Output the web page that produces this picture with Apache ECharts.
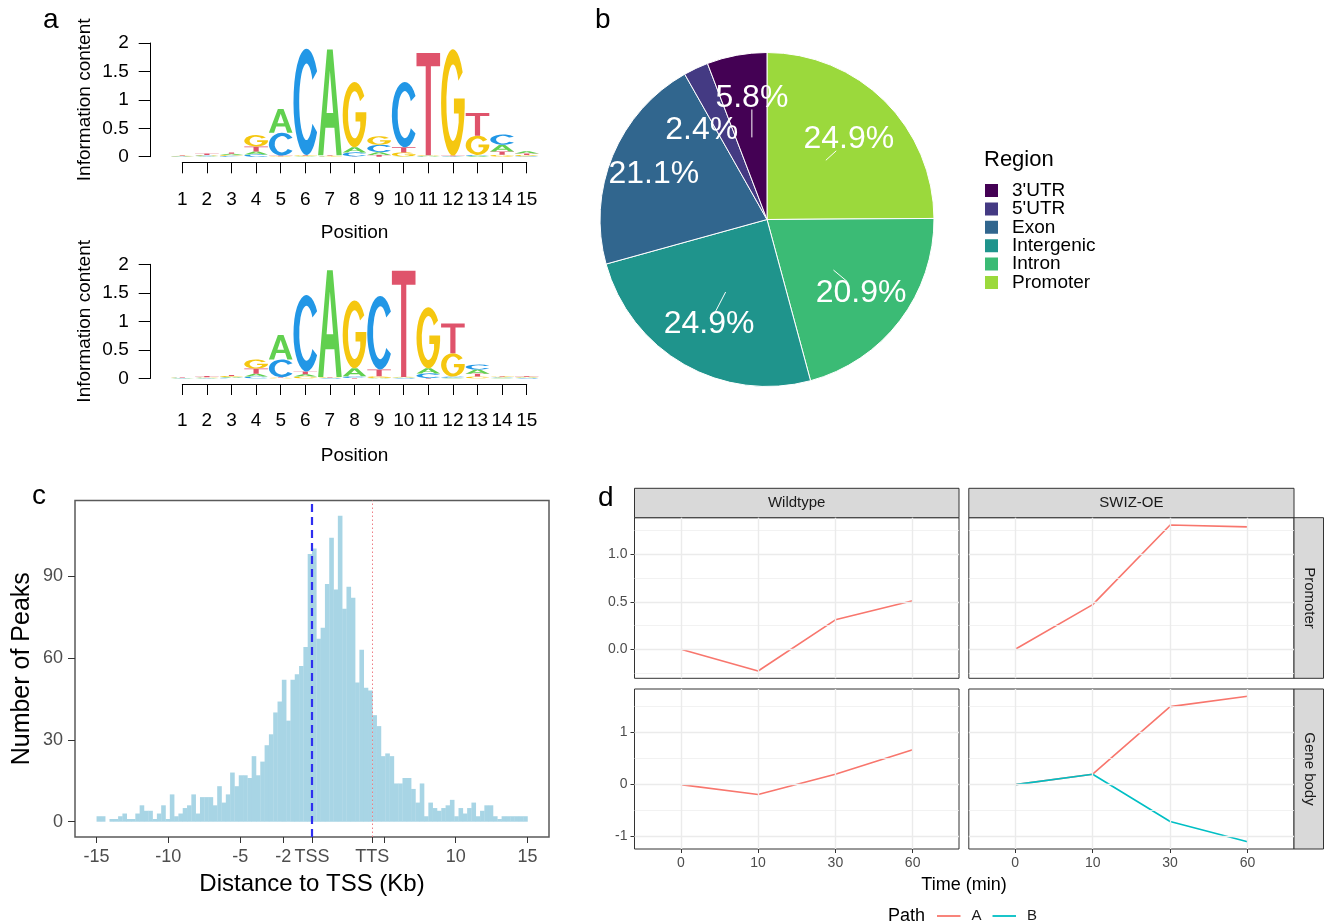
<!DOCTYPE html>
<html>
<head>
<meta charset="utf-8">
<script src="https://cdn.jsdelivr.net/npm/echarts@6/dist/echarts.min.js"></script>
<style>
html,body{margin:0;padding:0;background:#fff;}
#chart{width:1325px;height:924px;}
</style>
</head>
<body>
<div id="chart"></div>
<script>
// ================= DATA =================
// Panel a: sequence logos (information content in bits, per position 1..15)
const logoPositions = [1,2,3,4,5,6,7,8,9,10,11,12,13,14,15];
const logoLetters = ['A','C','G','T'];
const logo1A = [0.005,0.01,0.02,0.05,0.42,0.01,1.86,0.09,0.05,0.005,0.01,0.005,0.015,0.12,0.04];
const logo1C = [0.005,0.01,0.015,0.04,0.40,1.87,0.005,0.07,0.13,1.15,0.005,0.005,0.015,0.18,0.01];
const logo1G = [0.005,0.01,0.015,0.20,0.01,0.01,0.01,1.15,0.15,0.07,0.01,1.87,0.34,0.035,0.02];
const logo1T = [0.005,0.025,0.025,0.09,0.01,0.01,0.01,0.005,0.03,0.09,1.80,0.01,0.40,0.055,0.025];
const logo2A = [0.005,0.005,0.015,0.05,0.43,0.04,1.87,0.14,0.005,0.01,0.09,0.01,0.075,0.01,0.01];
const logo2C = [0.005,0.005,0.01,0.03,0.31,1.34,0.005,0.03,1.29,0.005,0.08,0.02,0.085,0.01,0.005];
const logo2G = [0.005,0.01,0.015,0.16,0.01,0.03,0.01,1.19,0.03,0.01,1.07,0.41,0.03,0.01,0.01];
const logo2T = [0.01,0.02,0.02,0.09,0.01,0.05,0.01,0.005,0.12,1.86,0.005,0.52,0.05,0.01,0.01];

// Panel b: genomic region distribution (%)
const regionNames = ['Promoter','Intron','Intergenic','Exon',"5'UTR","3'UTR"];
const regionPct = [24.9,20.9,24.9,21.1,2.4,5.8];
const regionLegendOrder = ["3'UTR","5'UTR",'Exon','Intergenic','Intron','Promoter'];

// Panel c: histogram of distance to TSS (100 bins of 0.3 kb from -15 kb)
const histStart = -15;
const histBinWidth = 0.3;
const histCounts = [
  2,2,0,1,1,2,3,1,1,3,6,4,4,1,3,6,1,10,2,3,5,6,10,3,9,9,9,6,13,7,10,18,13,17,
  17,16,24,17,22,28,32,40,44,52,37,52,54,57,64,98,
  100,67,71,87,104,85,112,78,86,82,51,63,49,48,39,35,24,25,
  24,14,14,16,16,12,7,14,2,7,5,4,5,6,8,2,5,3,5,7,2,4,6,6,2,1,2,2,2,2,2,2
];
const tssPos = 0;
const ttsPos = 4.2;
const histXTicks = [-15,-10,-5,-2,0,4.2,5,10,15];
const histXTickLabels = ['-15','-10','-5','-2','TSS','TTS','','10','15'];
const histYTicks = [0,30,60,90];

// Panel d: time course per path
const timeLabels = ['0','10','30','60'];
const wtPromoterA = [0,-0.23,0.31,0.51];
const oePromoterA = [0,0.47,1.31,1.29];
const wtGeneBodyA = [0,-0.19,0.20,0.67];
const oeGeneBodyA = [0,0.20,1.50,1.70];
const oeGeneBodyB = [0,0.20,-0.71,-1.10];
const promoterTicks = [0,0.5,1.0];
const promoterTickLabels = ['0.0','0.5','1.0'];
const geneBodyTicks = [-1,0,1];
const geneBodyTickLabels = ['-1','0','1'];

// ================= STYLE =================
const FONT = '"Liberation Sans", Arial, Helvetica, sans-serif';
const LETTER_COLORS = ['#61D04F','#2297E6','#F5C710','#DF536B'];
const GLYPHS = [
  'M0 100 L38 0 L62 0 L100 100 L78 100 L69 74 L31 74 L22 100 Z M36 60 L64 60 L50 20 Z',
  'M90.96 21.32 A 50 50 0 1 0 90.96 78.68 L72.94 70.65 A 28 36 0 1 1 72.94 29.35 Z',
  'M90.96 21.32 A 50 50 0 1 0 99.5 55 L99.5 46 L54 46 L54 60 L74 60 L74 68.5 A 28 36 0 1 1 72.94 29.35 Z',
  'M0 0 L100 0 L100 13 L61 13 L61 100 L39 100 L39 13 L0 13 Z'
];
const REGION_COLORS = {"3'UTR":'#440154',"5'UTR":'#443A83','Exon':'#31668E','Intergenic':'#1F948C','Intron':'#3BBB75','Promoter':'#9BD93C'};
const PIE_CENTER = [767,219.5];
const PIE_RADIUS = 167;
const PIE_LABEL_FONT = 32;
const PIE_LABEL_NUDGE = [[23,-21],[27.6,23],[-16.6,32],[-36,-13.5],[-29.7,-14],[0,-39.4]];
const PATH_COLORS = {A:'#F8766D', B:'#00BFC4'};

// ================= HELPERS =================
function buildLogo(hA,hC,hG,hT){
  const out=[];
  for(let p=0;p<logoPositions.length;p++){
    const items=[[0,hA[p]],[1,hC[p]],[2,hG[p]],[3,hT[p]]].sort((a,b)=>a[1]-b[1]);
    let y=0;
    for(const it of items){ out.push([logoPositions[p], y, y+it[1], it[0]]); y+=it[1]; }
  }
  return out;
}
function letterItem(params, api){
  const x=api.value(0), y0=api.value(1), y1=api.value(2), li=api.value(3);
  const a=api.coord([x-0.48,y1]), b=api.coord([x+0.48,y0]);
  return {type:'path', shape:{pathData:GLYPHS[li], x:a[0], y:a[1], width:b[0]-a[0], height:Math.max(b[1]-a[1],0.4), layout:'cover'}, style:{fill:LETTER_COLORS[li]}};
}
const histData = histCounts.map((c,i)=>[histStart+i*histBinWidth, histStart+(i+1)*histBinWidth, c]);
function histItem(params, api){
  const a=api.coord([api.value(0), api.value(2)]), b=api.coord([api.value(1), 0]);
  return {type:'rect', shape:{x:a[0], y:a[1], width:b[0]-a[0]+0.3, height:b[1]-a[1]}, style:{fill:'#A8D5E5'}};
}
const histMaxCount = Math.max(...histCounts);
const histXRange = [histStart, histStart+histCounts.length*histBinWidth];
const histXPad = (histXRange[1]-histXRange[0])*0.05;
const histYPad = histMaxCount*0.05;

function expandRange(arrs){
  const all=[].concat(...arrs); const mn=Math.min(...all), mx=Math.max(...all);
  const pad=(mx-mn)*0.05; return [mn-pad, mx+pad];
}
function minorBreaks(majors, lo, hi){
  const s=majors[1]-majors[0]; const out=majors.map(m=>m-s/2); out.push(majors[majors.length-1]+s/2);
  return out.filter(v=>v>lo && v<hi);
}
const promoterRange = expandRange([wtPromoterA, oePromoterA]);
const geneBodyRange = expandRange([wtGeneBodyA, oeGeneBodyA, oeGeneBodyB]);

// pie label geometry: centroid of slice (half radius) and nudged label position
const measureCtx = document.createElement('canvas').getContext('2d');
function pieLabelGeom(i){
  const total=regionPct.reduce((a,b)=>a+b,0);
  let before=0; for(let j=0;j<i;j++) before+=regionPct[j];
  const ang=(before+regionPct[i]/2)/total*2*Math.PI;
  const cx=PIE_CENTER[0]+PIE_RADIUS/2*Math.sin(ang), cy=PIE_CENTER[1]-PIE_RADIUS/2*Math.cos(ang);
  const lx=cx+PIE_LABEL_NUDGE[i][0], ly=cy+PIE_LABEL_NUDGE[i][1];
  measureCtx.font = PIE_LABEL_FONT+'px '+FONT;
  const hw = measureCtx.measureText(regionPct[i].toFixed(1)+'%').width/2, hh = PIE_LABEL_FONT*0.36;
  const dx=lx-cx, dy=ly-cy;
  const s=Math.min(dx?hw/Math.abs(dx):Infinity, dy?hh/Math.abs(dy):Infinity);
  const t=Math.max(0,1-s);
  return {cx, cy, lx, ly, ex:cx+dx*t, ey:cy+dy*t, len:Math.hypot(dx,dy)*t};
}
function pieLabelLayout(p){
  const g=pieLabelGeom(p.dataIndex);
  return {x:g.lx, y:g.ly, align:'center', verticalAlign:'middle'};
}
const pieLeaderLines = regionPct.map((v,i)=>pieLabelGeom(i)).filter(g=>g.len>=12).map(g=>(
  {type:'line', z:200, silent:true, shape:{x1:g.cx, y1:g.cy, x2:g.ex, y2:g.ey}, style:{stroke:'#ffffff', lineWidth:1}}
));

// ================= AXES =================
function logoXAxis(grid, margin, gap){
  return {gridIndex:grid, type:'value', min:1, max:15, interval:1,
    axisLine:{show:true, onZero:false, lineStyle:{color:'#000', width:1}},
    axisTick:{show:true, length:11, lineStyle:{color:'#000', width:1}},
    axisLabel:{color:'#000', fontSize:19, fontFamily:FONT, margin:margin},
    splitLine:{show:false},
    name:'Position', nameLocation:'middle', nameGap:gap, nameTextStyle:{color:'#000', fontSize:19, fontFamily:FONT}};
}
function logoYAxis(grid){
  return {gridIndex:grid, type:'value', min:0, max:2, interval:0.5, offset:19.3,
    axisLine:{show:true, onZero:false, lineStyle:{color:'#000', width:1}},
    axisTick:{show:true, length:12, lineStyle:{color:'#000', width:1}},
    axisLabel:{color:'#000', fontSize:19, fontFamily:FONT, margin:22},
    splitLine:{show:false},
    name:'Information content', nameLocation:'middle', nameGap:56, nameTextStyle:{color:'#000', fontSize:19, fontFamily:FONT}};
}
function facetX(grid, showLabels){
  return {gridIndex:grid, type:'value', min:0.4, max:4.6,
    axisLine:{show:false, onZero:false},
    axisTick:{show:showLabels, customValues:[1,2,3,4], length:4, lineStyle:{color:'#333'}},
    axisLabel:{show:showLabels, customValues:[1,2,3,4], formatter:v=>timeLabels[Math.round(v)-1], color:'#4D4D4D', fontSize:14, fontFamily:FONT, margin:7},
    splitLine:{show:false}};
}
function facetY(grid, range, ticks, labels, show){
  return {gridIndex:grid, type:'value', min:range[0], max:range[1],
    axisLine:{show:false, onZero:false},
    axisTick:{show:show, customValues:ticks, length:4, lineStyle:{color:'#333'}},
    axisLabel:{show:show, customValues:ticks, formatter:v=>{const k=ticks.findIndex(t=>Math.abs(t-v)<1e-9); return k>=0?labels[k]:'';}, color:'#4D4D4D', fontSize:14, fontFamily:FONT, margin:7},
    splitLine:{show:false}};
}
function facetGridSeries(idx, majors, range){
  const minors = minorBreaks(majors, range[0], range[1]);
  const major = {color:'#EBEBEB', width:1.4, type:'solid'};
  const minor = {color:'#EFEFEF', width:0.8, type:'solid'};
  return {type:'line', xAxisIndex:idx, yAxisIndex:idx, data:[], silent:true, z:1,
    markLine:{silent:true, symbol:['none','none'], animation:false, label:{show:false},
      data:[].concat(
        minors.map(v=>({yAxis:v, lineStyle:minor})),
        majors.map(v=>({yAxis:v, lineStyle:major})),
        timeLabels.map((t,i)=>({xAxis:i+1, lineStyle:major}))
      )}};
}
function pathLine(idx, name, vals){
  return {type:'line', name:name, xAxisIndex:idx, yAxisIndex:idx, data:vals.map((v,i)=>[i+1,v]),
    symbol:'none', silent:true, z:3, lineStyle:{color:PATH_COLORS[name], width:1.6}, itemStyle:{color:PATH_COLORS[name]}};
}

const facetBox = {show:true, borderColor:'#333333', borderWidth:1, backgroundColor:'rgba(0,0,0,0)'};

const option = {
  animation:false,
  backgroundColor:'#ffffff',
  textStyle:{fontFamily:FONT},
  grid:[
    {left:170, top:43, width:369, height:113.7},
    {left:182.3, top:161.3, width:344.4, height:1},
    {left:170, top:264.3, width:369, height:114},
    {left:182.3, top:383, width:344.4, height:1},
    {left:75, top:500.5, width:474, height:336.5, show:true, borderColor:'#5a5a5a', borderWidth:1.5, backgroundColor:'rgba(0,0,0,0)'},
    Object.assign({left:634.5, top:517.7, width:324.5, height:160.6}, facetBox),
    Object.assign({left:968.8, top:517.7, width:325.2, height:160.6}, facetBox),
    Object.assign({left:634.5, top:689, width:324.5, height:160}, facetBox),
    Object.assign({left:968.8, top:689, width:325.2, height:160}, facetBox)
  ],
  xAxis:[
    {gridIndex:0, type:'value', min:0.5, max:15.5, show:false, axisLine:{onZero:false}},
    logoXAxis(1, 28, 61),
    {gridIndex:2, type:'value', min:0.5, max:15.5, show:false, axisLine:{onZero:false}},
    logoXAxis(3, 27, 62),
    {gridIndex:4, type:'value', min:histXRange[0]-histXPad, max:histXRange[1]+histXPad,
      axisLine:{show:false, onZero:false},
      axisTick:{show:true, customValues:histXTicks, length:6, lineStyle:{color:'#333', width:1}},
      axisLabel:{show:true, customValues:histXTicks, formatter:v=>{const k=histXTicks.findIndex(t=>Math.abs(t-v)<1e-9); return k>=0?histXTickLabels[k]:'';}, color:'#4D4D4D', fontSize:18, fontFamily:FONT, margin:11},
      splitLine:{show:false},
      name:'Distance to TSS (Kb)', nameLocation:'middle', nameGap:35, nameTextStyle:{color:'#000', fontSize:24, fontFamily:FONT}},
    facetX(5,false), facetX(6,false), facetX(7,true), facetX(8,true)
  ],
  yAxis:[
    logoYAxis(0),
    {gridIndex:1, type:'value', min:0, max:1, show:false, axisLine:{onZero:false}},
    logoYAxis(2),
    {gridIndex:3, type:'value', min:0, max:1, show:false, axisLine:{onZero:false}},
    {gridIndex:4, type:'value', min:-histYPad, max:histMaxCount+histYPad,
      axisLine:{show:false, onZero:false},
      axisTick:{show:true, customValues:histYTicks, length:7, lineStyle:{color:'#333', width:1}},
      axisLabel:{show:true, customValues:histYTicks, color:'#4D4D4D', fontSize:18, fontFamily:FONT, margin:12},
      splitLine:{show:false},
      name:'Number of Peaks', nameLocation:'middle', nameGap:40, nameTextStyle:{color:'#000', fontSize:25, fontFamily:FONT}},
    facetY(5, promoterRange, promoterTicks, promoterTickLabels, true),
    facetY(6, promoterRange, promoterTicks, promoterTickLabels, false),
    facetY(7, geneBodyRange, geneBodyTicks, geneBodyTickLabels, true),
    facetY(8, geneBodyRange, geneBodyTicks, geneBodyTickLabels, false)
  ],
  legend:[
    {data:regionLegendOrder, orient:'vertical', left:983, top:181, padding:0, itemWidth:15, itemHeight:15, itemGap:-0.6,
      icon:'rect', selectedMode:false, textStyle:{fontSize:19, color:'#000', fontFamily:FONT, lineHeight:15, padding:[0,0,0,8]}},
    {data:['A','B'], orient:'horizontal', left:937, top:908.5, padding:0, itemWidth:23.5, itemHeight:1.8, itemGap:11,
      icon:'rect', selectedMode:false, textStyle:{fontSize:15, color:'#1A1A1A', fontFamily:FONT, lineHeight:14, padding:[0,0,0,6]}}
  ],
  series:[
    {type:'custom', xAxisIndex:0, yAxisIndex:0, data:buildLogo(logo1A,logo1C,logo1G,logo1T), renderItem:letterItem, silent:true},
    {type:'custom', xAxisIndex:2, yAxisIndex:2, data:buildLogo(logo2A,logo2C,logo2G,logo2T), renderItem:letterItem, silent:true},
    {type:'pie', center:PIE_CENTER, radius:PIE_RADIUS, startAngle:90, clockwise:true, avoidLabelOverlap:false, silent:true,
      data:regionNames.map((n,i)=>({name:n, value:regionPct[i], itemStyle:{color:REGION_COLORS[n]}})),
      itemStyle:{borderColor:'#ffffff', borderWidth:1},
      label:{show:true, position:'outside', formatter:p=>p.value.toFixed(1)+'%', color:'#ffffff', fontSize:PIE_LABEL_FONT, fontFamily:FONT},
      labelLine:{show:false},
      labelLayout:pieLabelLayout},
    {type:'custom', xAxisIndex:4, yAxisIndex:4, data:histData, renderItem:histItem, silent:true, z:2,
      markLine:{silent:true, symbol:['none','none'], animation:false, label:{show:false},
        data:[
          {xAxis:tssPos, lineStyle:{color:'#2E2EF0', width:2.2, type:[8,5]}},
          {xAxis:ttsPos, lineStyle:{color:'#EE7F86', width:1, type:[1.5,2.5]}}
        ]}},
    facetGridSeries(5, promoterTicks, promoterRange),
    facetGridSeries(6, promoterTicks, promoterRange),
    facetGridSeries(7, geneBodyTicks, geneBodyRange),
    facetGridSeries(8, geneBodyTicks, geneBodyRange),
    pathLine(5,'A',wtPromoterA),
    pathLine(6,'A',oePromoterA),
    pathLine(7,'A',wtGeneBodyA),
    pathLine(8,'A',oeGeneBodyA),
    pathLine(8,'B',oeGeneBodyB)
  ],
  graphic:{elements:[
    {type:'text', left:43, top:6, style:{text:'a', fontSize:28, fontFamily:FONT, fill:'#000'}},
    {type:'text', left:595, top:6, style:{text:'b', fontSize:28, fontFamily:FONT, fill:'#000'}},
    {type:'text', left:32, top:482, style:{text:'c', fontSize:28, fontFamily:FONT, fill:'#000'}},
    {type:'text', left:598, top:484, style:{text:'d', fontSize:28, fontFamily:FONT, fill:'#000'}},
    {type:'text', left:984, top:149, style:{text:'Region', fontSize:22, fontFamily:FONT, fill:'#000'}},
    {type:'rect', shape:{x:634.5, y:488.3, width:324.5, height:29.4}, style:{fill:'#D9D9D9', stroke:'#333333', lineWidth:1}},
    {type:'rect', shape:{x:968.8, y:488.3, width:325.2, height:29.4}, style:{fill:'#D9D9D9', stroke:'#333333', lineWidth:1}},
    {type:'rect', shape:{x:1294, y:517.7, width:29.5, height:160.6}, style:{fill:'#D9D9D9', stroke:'#333333', lineWidth:1}},
    {type:'rect', shape:{x:1294, y:689, width:29.5, height:160}, style:{fill:'#D9D9D9', stroke:'#333333', lineWidth:1}},
    {type:'text', x:796.7, y:503, style:{text:'Wildtype', x:0, y:0, align:'center', verticalAlign:'middle', fontSize:15, fontFamily:FONT, fill:'#1A1A1A'}},
    {type:'text', x:1131.4, y:503, style:{text:'SWIZ-OE', x:0, y:0, align:'center', verticalAlign:'middle', fontSize:15, fontFamily:FONT, fill:'#1A1A1A'}},
    {type:'text', x:1309, y:598, rotation:-Math.PI/2, style:{text:'Promoter', x:0, y:0, align:'center', verticalAlign:'middle', fontSize:15, fontFamily:FONT, fill:'#1A1A1A'}},
    {type:'text', x:1309, y:769, rotation:-Math.PI/2, style:{text:'Gene body', x:0, y:0, align:'center', verticalAlign:'middle', fontSize:15, fontFamily:FONT, fill:'#1A1A1A'}},
    {type:'text', x:964, y:885, style:{text:'Time (min)', x:0, y:0, align:'center', verticalAlign:'middle', fontSize:18, fontFamily:FONT, fill:'#000'}},
    {type:'text', x:888, y:916, style:{text:'Path', x:0, y:0, align:'left', verticalAlign:'middle', fontSize:18, fontFamily:FONT, fill:'#000'}}
  ].concat(pieLeaderLines)}
};

const chart = echarts.init(document.getElementById('chart'), null, {renderer:'canvas'});
chart.setOption(option);
</script>
</body>
</html>
